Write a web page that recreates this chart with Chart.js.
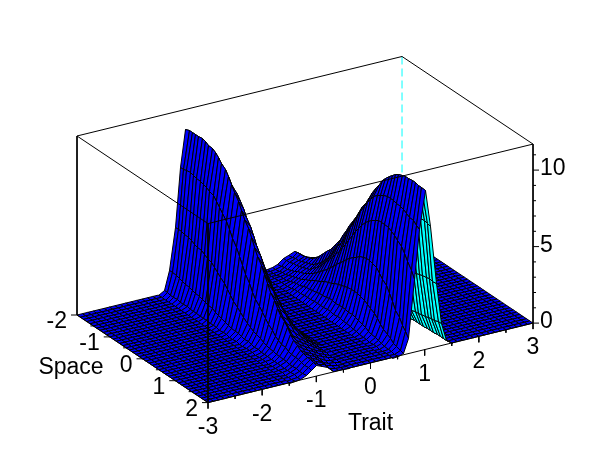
<!DOCTYPE html>
<html><head><meta charset="utf-8">
<style>html,body{margin:0;padding:0;background:#fff}canvas{display:block}</style>
<script src="https://cdn.jsdelivr.net/npm/chart.js@4"></script></head>
<body><canvas id="c" width="610" height="460"></canvas>
<script>
const traitTicks=[-3,-2,-1,0,1,2,3];
const spaceTicks=[-2,-1,0,1,2];
const zTicks=[0,5,10];
const zTop=11.7;
// Surface height; columns run Space -2 to 2 in steps of 0.1.
// Trait rows that are not listed lie on the floor (0).
const zTp04=[0,0,0,.01,.02,.03,.05,.07,.09,.12,.16,.18,.2,.22,.24,.25,.27,.28,.29,.29,.3,.3,.29,.28,.27,.25,.23,.2,.17,.14,.11,.08,.06,.04,.03,.02,.01,.01,0,0,0];
const zTp05=[0,.01,.02,.04,.07,.1,.14,.19,.25,.32,.38,.43,.49,.54,.6,.65,.69,.72,.75,.77,.78,.79,.8,.8,.79,.77,.74,.69,.63,.55,.47,.39,.31,.24,.18,.13,.09,.06,.04,.02,.01];
const zTp06=[.02,.04,.07,.11,.16,.22,.29,.37,.45,.55,.65,.75,.87,1,1.12,1.25,1.37,1.48,1.58,1.67,1.75,1.85,1.93,1.99,2.03,2.05,2.03,1.98,1.9,1.78,1.62,1.45,1.25,1.05,.85,.65,.5,.37,.27,.18,.12];
const zTp07=[.1,.15,.2,.26,.33,.41,.5,.6,.68,.8,.95,1.12,1.3,1.5,1.72,1.95,2.2,2.45,2.7,2.95,3.2,3.45,3.68,3.88,4.05,4.2,4.3,4.38,4.4,4.35,4.2,4,3.75,3.45,3.1,2.7,2.3,1.95,1.6,1.3,1];
const zTp08=[.42,.45,.48,.52,.57,.63,.7,.78,.88,1.05,1.25,1.5,1.75,2.05,2.35,2.65,3,3.35,3.7,4.1,4.5,4.95,5.35,5.7,6.05,6.35,6.6,6.8,6.95,7.05,7.1,7.1,7.05,6.95,6.8,6.6,6.35,6.05,5.65,5.25,4.8];
const zTp09=[.55,.58,.62,.67,.73,.8,.88,.98,1.1,1.3,1.55,1.8,2.15,2.5,2.9,3.3,3.7,4.1,4.6,5.1,5.6,6.1,6.6,7.05,7.45,7.8,8.1,8.3,8.5,8.6,8.68,8.7,8.7,8.68,8.62,8.55,8.45,8.35,8.25,8.1,7.95];
const zTp10=[.75,.77,.8,.85,.92,1,1.15,1.35,1.6,1.9,2.15,2.4,2.75,3.1,3.5,3.95,4.4,4.85,5.3,5.75,6.2,6.65,7.1,7.55,8,8.45,8.85,9.2,9.5,9.8,10,10.2,10.3,10.4,10.5,10.52,10.52,10.52,10.5,10.5,10.45];
const zTp11=[.5,.52,.54,.57,.6,.64,.69,.75,.82,.9,1,1.15,1.35,1.6,1.85,2.1,2.4,2.7,3,3.45,3.9,4.35,4.8,5.25,5.7,6.1,6.5,6.85,7.15,7.4,7.6,7.75,7.85,7.95,8,8.05,8.1,8.1,8.1,8.05,8];
const zTp12=[.22,.23,.24,.25,.26,.27,.29,.31,.33,.35,.38,.44,.5,.57,.65,.75,.85,.97,1.1,1.3,1.5,1.7,1.92,2.15,2.4,2.65,2.9,3.1,3.3,3.45,3.6,3.72,3.82,3.9,3.97,4.03,4.1,4.15,4.2,4.2,4.2];
const zTp13=[.08,.08,.09,.09,.1,.1,.1,.11,.11,.12,.13,.14,.15,.17,.19,.21,.24,.27,.3,.33,.35,.4,.46,.52,.6,.68,.76,.84,.9,.96,1,1.05,1.1,1.15,1.2,1.25,1.3,1.35,1.4,1.45,1.5];
const zTp14=[.01,.01,.01,.01,.01,.01,.02,.02,.02,.02,.02,.02,.03,.03,.03,.03,.04,.04,.04,.05,.05,.06,.07,.08,.09,.1,.11,.12,.13,.14,.15,.16,.17,.18,.19,.2,.21,.22,.23,.24,.25];
const zTm04=[0,0,0,.01,.01,.02,.03,.04,.06,.08,.11,.14,.17,.2,.23,.25,.27,.28,.29,.3,.3,.29,.29,.28,.27,.25,.24,.22,.2,.16,.12,.09,.07,.05,.03,.02,.01,0,0,0,0];
const zTm05=[.01,.02,.04,.06,.09,.13,.18,.24,.31,.39,.47,.55,.63,.69,.74,.77,.79,.8,.8,.79,.78,.77,.75,.72,.69,.65,.6,.54,.49,.43,.38,.32,.25,.19,.14,.1,.07,.04,.02,.01,0];
const zTm06=[.12,.18,.27,.37,.5,.65,.85,1.05,1.25,1.45,1.62,1.78,1.9,1.98,2.03,2.05,2.03,1.99,1.93,1.85,1.75,1.67,1.58,1.48,1.37,1.25,1.12,1,.87,.75,.65,.55,.45,.37,.29,.22,.16,.11,.07,.04,.02];
const zTm07=[1,1.3,1.6,1.95,2.3,2.7,3.1,3.45,3.75,4,4.2,4.35,4.4,4.38,4.3,4.2,4.05,3.88,3.68,3.45,3.2,2.95,2.7,2.45,2.2,1.95,1.72,1.5,1.3,1.12,.95,.8,.68,.6,.5,.41,.33,.26,.2,.15,.1];
const zTm08=[4.8,5.25,5.65,6.05,6.35,6.6,6.8,6.95,7.05,7.1,7.1,7.05,6.95,6.8,6.6,6.35,6.05,5.7,5.35,4.95,4.5,4.1,3.7,3.35,3,2.65,2.35,2.05,1.75,1.5,1.25,1.05,.88,.78,.7,.63,.57,.52,.48,.45,.42];
const zTm09=[7.95,8.1,8.25,8.35,8.45,8.55,8.62,8.68,8.7,8.7,8.68,8.6,8.5,8.3,8.1,7.8,7.45,7.05,6.6,6.1,5.6,5.1,4.6,4.1,3.7,3.3,2.9,2.5,2.15,1.8,1.55,1.3,1.1,.98,.88,.8,.73,.67,.62,.58,.55];
const zTm10=[10.45,10.5,10.5,10.52,10.52,10.52,10.5,10.4,10.3,10.2,10,9.8,9.5,9.2,8.85,8.45,8,7.55,7.1,6.65,6.2,5.75,5.3,4.85,4.4,3.95,3.5,3.1,2.75,2.4,2.15,1.9,1.6,1.35,1.15,1,.92,.85,.8,.77,.75];
const zTm11=[8,8.05,8.1,8.1,8.1,8.05,8,7.95,7.85,7.75,7.6,7.4,7.15,6.85,6.5,6.1,5.7,5.25,4.8,4.35,3.9,3.45,3,2.7,2.4,2.1,1.85,1.6,1.35,1.15,1,.9,.82,.75,.69,.64,.6,.57,.54,.52,.5];
const zTm12=[4.2,4.2,4.2,4.15,4.1,4.03,3.97,3.9,3.82,3.72,3.6,3.45,3.3,3.1,2.9,2.65,2.4,2.15,1.92,1.7,1.5,1.3,1.1,.97,.85,.75,.65,.57,.5,.44,.38,.35,.33,.31,.29,.27,.26,.25,.24,.23,.22];
const zTm13=[1.5,1.45,1.4,1.35,1.3,1.25,1.2,1.15,1.1,1.05,1,.96,.9,.84,.76,.68,.6,.52,.46,.4,.35,.33,.3,.27,.24,.21,.19,.17,.15,.14,.13,.12,.11,.11,.1,.1,.1,.09,.09,.08,.08];
const zTm14=[.25,.24,.23,.22,.21,.2,.19,.18,.17,.16,.15,.14,.13,.12,.11,.1,.09,.08,.07,.06,.05,.05,.04,.04,.04,.03,.03,.03,.03,.02,.02,.02,.02,.02,.02,.01,.01,.01,.01,.01,.01];
const ridgeRows={"-14":zTm14,"-13":zTm13,"-12":zTm12,"-11":zTm11,"-10":zTm10,"-9":zTm09,"-8":zTm08,"-7":zTm07,"-6":zTm06,"-5":zTm05,"-4":zTm04,
 "4":zTp04,"5":zTp05,"6":zTp06,"7":zTp07,"8":zTp08,"9":zTp09,"10":zTp10,"11":zTp11,"12":zTp12,"13":zTp13,"14":zTp14};

const T0=-3,T1=3,S0=-2,S1=2;
const px=(t,s)=>77+(t-T0)*54.17+(s-S0)*32.75;
const py=(t,s,z)=>315-(t-T0)*13.25+(s-S0)*21.9-z*15.3;
const P=(t,s,z)=>({x:px(t,s),y:py(t,s,z)});
const snap=p=>({x:Math.round(p.x)+.5,y:Math.round(p.y)+.5});
const zAt=(ti,si)=>{const r=ridgeRows[String(ti)];return r?r[si+20]:0;};
const BLUE='#0000ff',CYAN='#00ffff';
const front=[],surface=[],back=[];
const seg=(list,pts,color,dash)=>list.push({data:pts,borderColor:color||'#000',borderWidth:1,borderDash:dash||[],fill:false,pointRadius:0,showLine:true,tension:0});
// back edges
seg(back,[P(T0,S0,zTop),P(T1,S0,zTop),P(T1,S1,zTop)]);
seg(back,[P(T1,S0,zTop),P(T1,S0,0)],CYAN,[8,4]);
// surface, nearest quad first (first dataset paints last)
for(let si=20;si>-20;si--){
 for(let ti=-30;ti<30;ti++){
  const za=zAt(ti,si),zb=zAt(ti+1,si),zc=zAt(ti+1,si-1),zd=zAt(ti,si-1);
  const a=P(ti/10,si/10,za),b=P((ti+1)/10,si/10,zb),c=P((ti+1)/10,(si-1)/10,zc),d=P(ti/10,(si-1)/10,zd);
  const area=(c.x-a.x)*(d.y-b.y)-(c.y-a.y)*(d.x-b.x);
  const raised=za+zb+zc+zd>0;
  const f=raised?snap:(p=>p);
  const A=f(a),B=f(b),C=f(c),D=f(d);
  surface.push({data:[A,B,C,D,A],borderColor:'#000',borderWidth:1,backgroundColor:area<0?BLUE:CYAN,fill:'shape',pointRadius:0,showLine:true,tension:0});
 }
}
// front edges and axes
seg(front,[P(T0,S0,zTop),P(T0,S1,zTop),P(T1,S1,zTop)]);
seg(front,[P(T0,S0,zTop),P(T0,S0,0)]);
seg(front,[P(T0,S1,zTop),P(T0,S1,0)]);
seg(front,[P(T1,S1,zTop),P(T1,S1,0)]);
seg(front,[P(T0,S0,0),P(T0,S1,0),P(T1,S1,0)]);
const off=(p,dx,dy)=>({x:p.x+dx,y:p.y+dy});
for(let i=0;i<=12;i++){const t=T0+i/2,p=P(t,S1,0);seg(front,[p,off(p,0,i%2?3:6)]);}
for(let i=0;i<=8;i++){const s=S0+i/2,p=P(T0,s,0);seg(front,[p,off(p,i%2?-3:-6,0)]);}
for(let z=0;z<=11;z++){const p=P(T1,S1,z);seg(front,[p,off(p,z%5?3:6,0)]);}

const labels={id:'labels',afterDraw(ch){
 const g=ch.ctx,X=ch.scales.x,Y=ch.scales.y;
 g.save();g.fillStyle='#000';g.font='23px "Liberation Sans"';g.textBaseline='middle';
 const put=(s,p,dx,dy,al)=>{g.textAlign=al;g.fillText(s,X.getPixelForValue(p.x)+dx,Y.getPixelForValue(p.y)+dy);};
 traitTicks.forEach(t=>put(String(t),P(t,S1,0),0,25,'center'));
 spaceTicks.forEach(s=>put(String(s),P(T0,s,0),-10,7,'right'));
 zTicks.forEach(z=>put(String(z),P(T1,S1,z),7,-1,'left'));
 put('Space',P(T0,S1,0),-137,-35,'center');
 put('Trait',P(0,S1,0),0,61,'center');
 g.restore();
}};
new Chart(document.getElementById('c'),{type:'scatter',
 data:{datasets:[...front,...surface,...back]},
 plugins:[labels],
 options:{responsive:false,animation:false,events:[],
  layout:{padding:0},
  plugins:{legend:{display:false},tooltip:{enabled:false},filler:{drawTime:'beforeDatasetDraw'}},
  scales:{x:{type:'linear',min:0,max:610,display:false},y:{type:'linear',min:0,max:460,reverse:true,display:false}}}});
</script></body></html>
